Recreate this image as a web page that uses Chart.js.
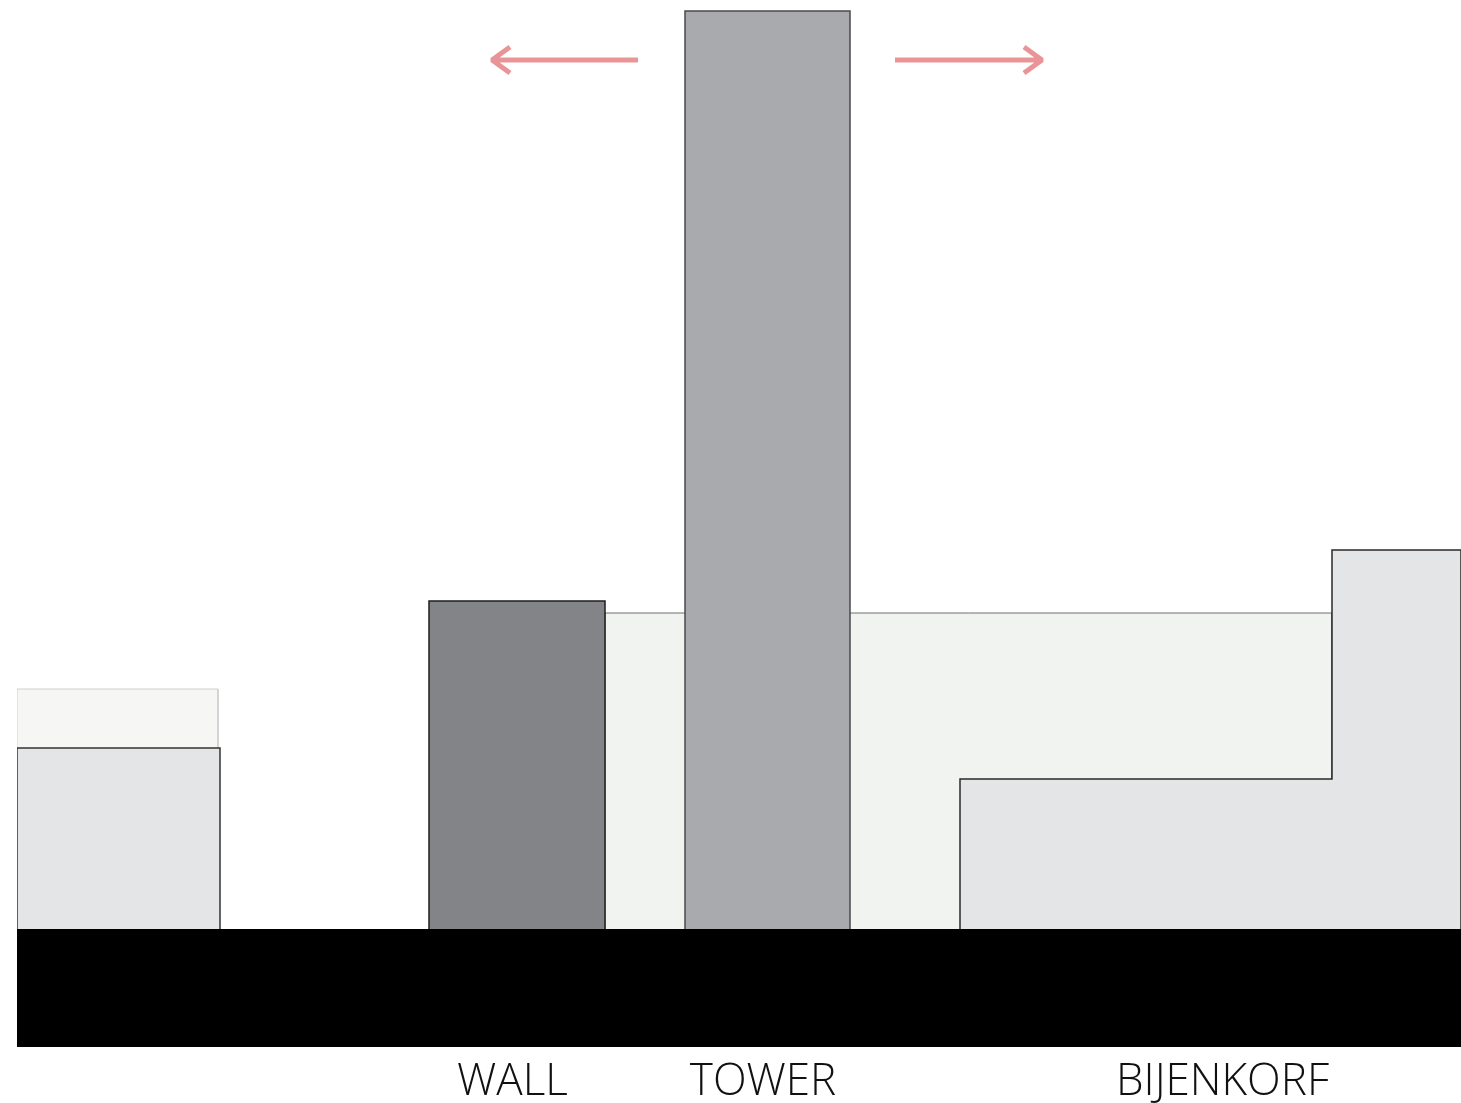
<!DOCTYPE html>
<html>
<head>
<meta charset="utf-8">
<script src="https://cdn.jsdelivr.net/npm/chart.js@4"></script>
<style>
  body { margin: 0; background: #fff; }
  canvas { display: block; }
</style>
</head>
<body>
<canvas id="section" width="1461" height="1103"></canvas>
<script>
// section through the site, units in metres (x along street, y height above ground)
const labels = ['WALL', 'TOWER', 'BIJENKORF'];
const labelPos = [49.55, 74.6, 120.55];

const leftBackX = [0, 0, 20.1, 20.1];
const leftBackY = [0, 24.0, 24.0, 0];

const leftFrontX = [0, 0, 20.3, 20.3];
const leftFrontY = [0, 18.1, 18.1, 0];

const wallX = [41.2, 41.2, 58.8, 58.8];
const wallY = [0, 32.8, 32.8, 0];

const backBlockX = [58.8, 58.8, 131.5, 131.5];
const backBlockY = [0, 31.6, 31.6, 0];

const towerX = [66.8, 66.8, 83.3, 83.3];
const towerY = [0, 91.8, 91.8, 0];

const bijenkorfX = [94.3, 94.3, 131.5, 131.5, 144.4, 144.4];
const bijenkorfY = [0, 15.0, 15.0, 37.9, 37.9, 0];

const groundX = [0, 144.4];
const groundY = [-11.8, -11.8];

// arrows: wing, tip, wing, tip, tail
const arrowLeftX = [49.3, 47.5, 49.3, 47.5, 62.1];
const arrowLeftY = [88.2, 86.9, 85.6, 86.9, 86.9];
const arrowRightX = [100.7, 102.5, 100.7, 102.5, 87.8];
const arrowRightY = [88.2, 86.9, 85.6, 86.9, 86.9];

function pts(xs, ys) {
    return xs.map((x, i) => ({ x: x, y: ys[i] }));
}

function shape(xs, ys, fillColor, lineColor, lineWidth, order) {
    return {
        data: pts(xs, ys),
        backgroundColor: fillColor,
        borderColor: lineColor,
        borderWidth: lineWidth,
        fill: 'origin',
        pointRadius: 0,
        tension: 0,
        order: order
    };
}

function arrow(xs, ys) {
    return {
        data: pts(xs, ys),
        borderColor: '#e99598',
        borderWidth: 5,
        borderJoinStyle: 'bevel',
        fill: false,
        pointRadius: 0,
        order: 0
    };
}

const ctx = document.getElementById('section');
const chart = new Chart(ctx, { // eslint-disable-line
    type: 'line',
    data: {
        datasets: [
            arrow(arrowLeftX, arrowLeftY),
            arrow(arrowRightX, arrowRightY),
            shape(groundX, groundY, '#000000', '#000000', 0, 1),
            shape(towerX, towerY, '#a9aaad', '#4a4a4c', 1.5, 2),
            shape(wallX, wallY, '#838488', '#1e1e1e', 1.5, 3),
            shape(bijenkorfX, bijenkorfY, '#e4e5e7', '#2a2a2a', 1.5, 3),
            shape(leftFrontX, leftFrontY, '#e4e5e7', '#333333', 1.5, 3),
            shape(backBlockX, backBlockY, '#f1f3f1', '#6e6e6e', 1, 5),
            shape(leftBackX, leftBackY, '#f6f6f4', '#cfcfcf', 1, 5)
        ]
    },
    options: {
        responsive: false,
        animation: false,
        layout: { padding: { left: 17, right: 0, top: 0, bottom: 0 } },
        plugins: {
            legend: { display: false },
            tooltip: { enabled: false }
        },
        scales: {
            x: {
                type: 'linear',
                min: 0,
                max: 144.4,
                grid: { display: false },
                border: { display: false },
                afterBuildTicks: (axis) => {
                    axis.ticks = labelPos.map((v) => ({ value: v }));
                },
                afterFit: (axis) => {
                    axis.height = 56;
                },
                ticks: {
                    autoSkip: false,
                    maxRotation: 0,
                    padding: 1,
                    color: '#111111',
                    font: { family: 'Open Sans', size: 44, weight: '300' },
                    callback: (value) => labels[labelPos.indexOf(value)]
                }
            },
            y: {
                display: false,
                min: -11.8,
                max: 92.9
            }
        }
    }
});
</script>
</body>
</html>
